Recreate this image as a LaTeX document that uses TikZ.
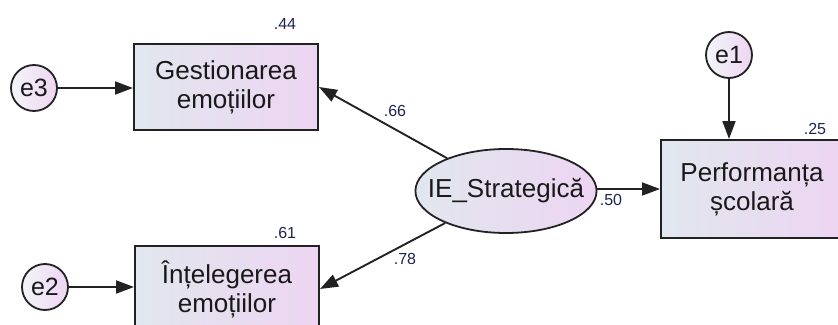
\documentclass[tikz,border=0pt]{standalone}
\usepackage{fontspec}
\setmainfont{Liberation Sans}
\usetikzlibrary{shapes.geometric,arrows.meta}
\definecolor{fillL}{HTML}{E1E7EE}
\definecolor{fillR}{HTML}{EDD5F2}
\definecolor{edge}{HTML}{222222}
\definecolor{coef}{HTML}{1C2450}
\tikzset{
  varbox/.style={draw=edge, line width=2pt, left color=fillL, right color=fillR,
    minimum width=184pt, minimum height=86pt, inner sep=0pt, align=center,
    font=\fontsize{26}{29}\selectfont, text=black!90},
  latent/.style={ellipse, draw=edge, line width=1.8pt, left color=fillL, right color=fillR,
    minimum width=178pt, minimum height=84pt, inner xsep=-14pt, inner ysep=0pt,
    font=\fontsize{26}{29}\selectfont, text=black!90},
  errnode/.style={circle, draw=edge, line width=1.8pt, left color=fillL!40!white, right color=fillR,
    minimum size=46pt, inner sep=0pt, font=\fontsize{25}{28}\selectfont, text=black!90},
  coeflabel/.style={font=\fontsize{16}{18}\selectfont, text=coef, inner sep=0pt},
  path/.style={draw=edge, line width=1.9pt, -{Triangle[length=18pt,width=13pt]}}
}
\begin{document}
\begin{tikzpicture}[x=1pt,y=-1pt]
  \useasboundingbox (0,0) rectangle (838,324);
  \clip (0,0) rectangle (838,324);

  % observed variables
  \node[varbox] (gest) at (226,87) {Gestionarea\\emoțiilor};
  \node[varbox] (intel) at (227,289) {Înțelegerea\\emoțiilor};
  \node[varbox, minimum width=182pt, minimum height=98pt] (perf) at (752,189) {Performanța\\școlară};

  % latent factor
  \node[latent] (ie) at (506,191) {IE\_Strategică};

  % error terms
  \node[errnode] (e3) at (34,88) {e3};
  \node[errnode] (e2) at (45,287) {e2};
  \node[errnode] (e1) at (729,55) {e1};

  % paths
  \draw[path] (e3) -- (gest.west |- e3);
  \draw[path] (e2) -- (intel.west |- e2);
  \draw[path] (e1) -- (perf.north -| e1);
  \draw[path] (ie) -- (gest.east);
  \draw[path] (ie) -- (intel.east);
  \draw[path] (ie.east |- perf.west) -- (perf.west);

  % squared multiple correlations and loadings
  \node[coeflabel] (r1) at (285,24) {.44};
  \node[coeflabel] (r2) at (285,233) {.61};
  \node[coeflabel] (r3) at (815,129) {.25};
  \node[coeflabel] (l1) at (395,111) {.66};
  \node[coeflabel] (l2) at (405,259) {.78};
  \node[coeflabel] (l3) at (611,200) {.50};
\end{tikzpicture}
\end{document}
